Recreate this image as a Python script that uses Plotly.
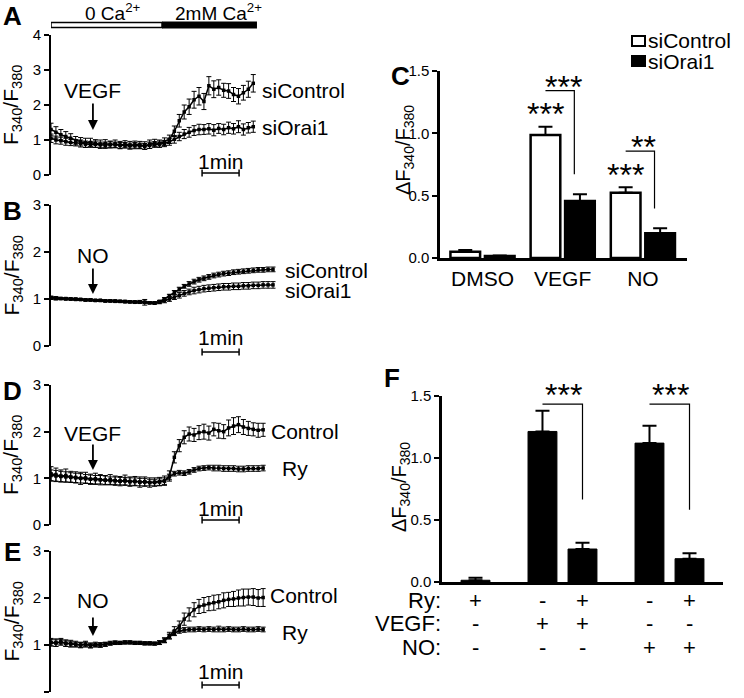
import plotly.graph_objects as go

W, H = 744, 698
FONT = "Liberation Sans, Arial, Helvetica, sans-serif"

# ------------------------------------------------------------------ data
# Panel A  (VEGF, siControl vs siOrai1), time in s
time_A = [0, 8, 16, 24, 32, 40, 48, 56, 64, 72, 80, 88, 96, 104, 112, 120, 128, 136, 144, 152,
          160, 168, 176, 184, 192, 200, 208, 216, 224, 232, 240, 248, 256, 264, 272, 280, 288,
          296, 304, 312, 320, 328]
A_siControl = [1.30, 1.22, 1.15, 1.10, 1.05, 0.98, 0.95, 0.92, 0.93, 0.90,
               0.88, 0.90, 0.87, 0.89, 0.86, 0.88, 0.85, 0.87, 0.86, 0.84,
               0.88, 0.92, 0.90, 0.95, 1.02, 1.25, 1.55, 1.80, 1.95, 2.15,
               2.25, 2.10, 2.55, 2.45, 2.50, 2.42, 2.40, 2.30, 2.25, 2.35,
               2.45, 2.62]
A_siControl_err = [0.18, 0.16, 0.15, 0.14, 0.13, 0.12, 0.12, 0.13, 0.12, 0.11,
                   0.12, 0.11, 0.10, 0.11, 0.10, 0.10, 0.11, 0.10, 0.10, 0.11,
                   0.12, 0.10, 0.10, 0.11, 0.12, 0.15, 0.18, 0.20, 0.22, 0.24,
                   0.25, 0.23, 0.26, 0.24, 0.22, 0.20, 0.21, 0.20, 0.22, 0.21,
                   0.23, 0.25]
A_siOrai1 = [1.05, 1.00, 0.98, 0.95, 0.93, 0.92, 0.90, 0.88, 0.87, 0.88,
             0.86, 0.85, 0.87, 0.86, 0.84, 0.85, 0.83, 0.84, 0.83, 0.82,
             0.85, 0.87, 0.88, 0.90, 0.95, 1.02, 1.10, 1.17, 1.22, 1.27,
             1.30, 1.30, 1.32, 1.28, 1.33, 1.30, 1.35, 1.32, 1.38, 1.30,
             1.35, 1.38]
A_siOrai1_err = [0.12, 0.11, 0.10, 0.10, 0.09, 0.09, 0.10, 0.09, 0.08, 0.09,
                 0.08, 0.09, 0.08, 0.08, 0.09, 0.08, 0.08, 0.09, 0.08, 0.08,
                 0.09, 0.08, 0.09, 0.09, 0.10, 0.11, 0.12, 0.13, 0.14, 0.14,
                 0.15, 0.14, 0.15, 0.16, 0.14, 0.15, 0.16, 0.15, 0.17, 0.16,
                 0.15, 0.16]

# Panel B  (NO, siControl vs siOrai1)
time_B = [0, 8, 16, 24, 32, 40, 48, 56, 64, 72, 80, 88, 96, 104, 112, 120, 128, 136, 144, 152,
          160, 168, 176, 184, 192, 200, 208, 216, 224, 232, 240, 248, 256, 264, 272, 280, 288,
          296, 304, 312, 320, 328, 336, 344, 352, 360]
B_siControl = [1.02, 1.01, 1.01, 1.00, 1.00, 0.99, 0.99, 0.98, 0.98, 0.97,
               0.97, 0.96, 0.96, 0.95, 0.95, 0.94, 0.94, 0.93, 0.94, 0.93,
               0.92, 0.92, 0.95, 1.00, 1.07, 1.14, 1.21, 1.27, 1.32, 1.37,
               1.41, 1.44, 1.47, 1.50, 1.52, 1.54, 1.55, 1.57, 1.58, 1.59,
               1.60, 1.61, 1.62, 1.62, 1.63, 1.63]
B_siControl_err = [0.03, 0.03, 0.02, 0.02, 0.02, 0.02, 0.02, 0.02, 0.02, 0.02,
                   0.02, 0.02, 0.02, 0.02, 0.02, 0.02, 0.02, 0.02, 0.03, 0.06,
                   0.02, 0.02, 0.02, 0.03, 0.03, 0.04, 0.04, 0.04, 0.05, 0.05,
                   0.05, 0.05, 0.05, 0.05, 0.05, 0.05, 0.05, 0.05, 0.05, 0.05,
                   0.05, 0.05, 0.05, 0.05, 0.05, 0.05]
B_siOrai1 = [1.03, 1.02, 1.01, 1.01, 1.00, 1.00, 0.99, 0.98, 0.98, 0.97,
             0.97, 0.96, 0.96, 0.96, 0.95, 0.95, 0.94, 0.94, 0.93, 0.93,
             0.92, 0.91, 0.93, 0.96, 1.00, 1.04, 1.08, 1.12, 1.15, 1.18,
             1.20, 1.22, 1.23, 1.24, 1.25, 1.26, 1.26, 1.27, 1.27, 1.28,
             1.28, 1.29, 1.29, 1.30, 1.30, 1.30]
B_siOrai1_err = [0.03, 0.03, 0.02, 0.02, 0.02, 0.02, 0.02, 0.02, 0.02, 0.02,
                 0.02, 0.02, 0.02, 0.02, 0.02, 0.02, 0.02, 0.02, 0.02, 0.02,
                 0.02, 0.02, 0.03, 0.04, 0.05, 0.05, 0.06, 0.06, 0.06, 0.07,
                 0.07, 0.07, 0.07, 0.07, 0.07, 0.07, 0.07, 0.07, 0.07, 0.07,
                 0.07, 0.07, 0.07, 0.07, 0.07, 0.07]

# Panel D  (VEGF, Control vs Ryanodine)
time_D = [0, 8, 16, 24, 32, 40, 48, 56, 64, 72, 80, 88, 96, 104, 112, 120, 128, 136, 144, 152,
          160, 168, 176, 184, 192, 200, 208, 216, 224, 232, 240, 248, 256, 264, 272, 280, 288,
          296, 304, 312, 320, 328, 336, 344]
D_Control = [1.10, 1.08, 1.05, 1.06, 1.03, 1.02, 1.00, 1.01, 0.98, 0.99,
             0.97, 0.96, 0.97, 0.95, 0.94, 0.96, 0.93, 0.94, 0.92, 0.93,
             0.91, 0.92, 0.93, 0.95, 1.05, 1.45, 1.70, 1.88, 1.95, 1.93,
             1.98, 2.00, 1.97, 2.05, 2.02, 2.00, 2.08, 2.12, 2.15, 2.10,
             2.07, 2.05, 2.03, 2.04]
D_Control_err = [0.15, 0.14, 0.13, 0.14, 0.12, 0.12, 0.13, 0.12, 0.11, 0.12,
                 0.11, 0.10, 0.11, 0.10, 0.10, 0.11, 0.10, 0.10, 0.11, 0.10,
                 0.10, 0.09, 0.09, 0.10, 0.11, 0.12, 0.13, 0.14, 0.15, 0.14,
                 0.15, 0.16, 0.15, 0.14, 0.16, 0.15, 0.17, 0.18, 0.17, 0.16,
                 0.15, 0.14, 0.15, 0.14]
D_Ry = [1.06, 1.05, 1.04, 1.03, 1.02, 1.01, 1.00, 0.99, 0.98, 0.97,
        0.97, 0.96, 0.95, 0.95, 0.94, 0.94, 0.93, 0.93, 0.92, 0.92,
        0.91, 0.91, 0.92, 0.94, 1.03, 1.10, 1.12, 1.11, 1.14, 1.18,
        1.21, 1.22, 1.23, 1.22, 1.22, 1.21, 1.21, 1.21, 1.20, 1.20,
        1.21, 1.21, 1.21, 1.22]
D_Ry_err = [0.12, 0.12, 0.11, 0.11, 0.10, 0.10, 0.10, 0.09, 0.09, 0.09,
            0.09, 0.09, 0.08, 0.08, 0.08, 0.08, 0.08, 0.08, 0.08, 0.08,
            0.07, 0.07, 0.07, 0.07, 0.06, 0.05, 0.05, 0.05, 0.05, 0.05,
            0.05, 0.05, 0.05, 0.06, 0.06, 0.06, 0.06, 0.06, 0.06, 0.06,
            0.06, 0.06, 0.06, 0.06]

# Panel E  (NO, Control vs Ryanodine)
time_E = [0, 8, 16, 24, 32, 40, 48, 56, 64, 72, 80, 88, 96, 104, 112, 120, 128, 136, 144, 152,
          160, 168, 176, 184, 192, 200, 208, 216, 224, 232, 240, 248, 256, 264, 272, 280, 288,
          296, 304, 312, 320, 328, 336, 344]
E_Control = [1.06, 1.05, 1.07, 1.04, 1.03, 1.02, 1.00, 1.02, 0.99, 1.01,
             1.00, 1.02, 1.04, 1.05, 1.05, 1.06, 1.06, 1.05, 1.05, 1.04,
             1.04, 1.03, 1.05, 1.10, 1.20, 1.30, 1.40, 1.55, 1.65, 1.75,
             1.82, 1.85, 1.88, 1.90, 1.92, 1.95, 1.97, 1.98, 2.00, 2.01,
             2.02, 2.02, 2.00, 2.01]
E_Control_err = [0.08, 0.08, 0.07, 0.07, 0.07, 0.06, 0.06, 0.06, 0.05, 0.05,
                 0.05, 0.04, 0.04, 0.04, 0.03, 0.03, 0.03, 0.03, 0.03, 0.03,
                 0.03, 0.03, 0.04, 0.05, 0.07, 0.09, 0.11, 0.13, 0.14, 0.15,
                 0.15, 0.16, 0.15, 0.16, 0.15, 0.16, 0.15, 0.16, 0.17, 0.18,
                 0.17, 0.18, 0.18, 0.19]
E_Ry = [1.05, 1.04, 1.06, 1.03, 1.02, 1.01, 1.00, 1.01, 0.99, 1.00,
        1.00, 1.01, 1.03, 1.04, 1.04, 1.05, 1.05, 1.04, 1.04, 1.03,
        1.03, 1.03, 1.05, 1.10, 1.18, 1.25, 1.30, 1.32, 1.33, 1.33,
        1.34, 1.33, 1.34, 1.33, 1.34, 1.33, 1.34, 1.33, 1.33, 1.34,
        1.33, 1.33, 1.34, 1.33]
E_Ry_err = [0.07, 0.07, 0.06, 0.06, 0.06, 0.05, 0.05, 0.05, 0.05, 0.04,
            0.04, 0.04, 0.03, 0.03, 0.03, 0.03, 0.03, 0.03, 0.03, 0.03,
            0.03, 0.03, 0.04, 0.05, 0.05, 0.05, 0.05, 0.05, 0.05, 0.05,
            0.05, 0.05, 0.05, 0.05, 0.06, 0.05, 0.05, 0.05, 0.05, 0.05,
            0.05, 0.05, 0.05, 0.05]

# Panel C  (bar chart)
c_categories = ["DMSO", "VEGF", "NO"]
c_siControl = [0.051, 0.987, 0.524]
c_siControl_err = [0.013, 0.066, 0.043]
c_siOrai1 = [0.016, 0.457, 0.198]
c_siOrai1_err = [0.005, 0.054, 0.040]
c_stars_vs_dmso = ["", "***", "***"]
c_stars_vs_siControl = ["", "***", "**"]

# Panel F  (bar chart)
f_stimulus = ["none", "VEGF", "NO"]
f_noRy = [None, 1.214, 1.120]
f_noRy_err = [0, 0.167, 0.140]
f_Ry = [0.014, 0.266, 0.188]
f_Ry_err = [0.020, 0.050, 0.044]
f_stars = ["", "***", "***"]

# ------------------------------------------------------------------ layout helpers
def fx(p):
    return p / W


def fy(p):
    return 1 - p / H


SEC_PER_PX = 60 / 37          # 1 min scale bar = 37 px
LX0, LX1 = 51, 292            # left panels x-domain (px)
CA_ADD_TIME = 180             # switch 0 Ca -> 2 mM Ca (s)
RECORD_END = 334
STIM_TIME = 68                # VEGF / NO application (s)
SCALE_T0 = 245                # start of 1-min scale bar (s)

fig = go.Figure()
shapes, annotations = [], []
layout = dict(width=W, height=H, margin=dict(l=0, r=0, t=0, b=0, pad=0, autoexpand=False),
              paper_bgcolor="white", plot_bgcolor="rgba(0,0,0,0)", showlegend=False,
              font=dict(family=FONT, color="black"), barmode="overlay")


def ann(text, x, y, size=21, xref="paper", yref="paper", **kw):
    d = dict(text=text, x=x, y=y, xref=xref, yref=yref, showarrow=False,
             xanchor="center", yanchor="middle",
             font=dict(family=FONT, size=size, color="black"))
    d.update(kw)
    annotations.append(d)


left_panels = [
    dict(letter="A", idx=1, top=35, bottom=175, ymax=4, letter_y=16, stim="VEGF",
         stim_text_y=91, arrow_tail=102, arrow_head=130, min_text_y=161, bar_y=173,
         series=[(time_A, A_siControl, A_siControl_err, "siControl", 260, 91),
                 (time_A, A_siOrai1, A_siOrai1_err, "siOrai1", 260, 128)]),
    dict(letter="B", idx=2, top=205, bottom=346, ymax=3, letter_y=211, stim="NO",
         stim_text_y=255, arrow_tail=267, arrow_head=294, min_text_y=337, bar_y=352,
         series=[(time_B, B_siControl, B_siControl_err, "siControl", 283, 270),
                 (time_B, B_siOrai1, B_siOrai1_err, "siOrai1", 283, 291)]),
    dict(letter="D", idx=3, top=385, bottom=525, ymax=3, letter_y=391, stim="VEGF",
         stim_text_y=433, arrow_tail=443, arrow_head=470, min_text_y=508, bar_y=520,
         series=[(time_D, D_Control, D_Control_err, "Control", 269, 431),
                 (time_D, D_Ry, D_Ry_err, "Ry", 280, 468)]),
    dict(letter="E", idx=4, top=551, bottom=692, ymax=3, letter_y=552, stim="NO",
         stim_text_y=600, arrow_tail=616, arrow_head=636, min_text_y=671, bar_y=685,
         series=[(time_E, E_Control, E_Control_err, "Control", 268, 595),
                 (time_E, E_Ry, E_Ry_err, "Ry", 280, 632)]),
]

for p in left_panels:
    i = p["idx"]
    xk = "xaxis" if i == 1 else f"xaxis{i}"
    yk = "yaxis" if i == 1 else f"yaxis{i}"
    xn = "x" if i == 1 else f"x{i}"
    yn = "y" if i == 1 else f"y{i}"
    layout[xk] = dict(domain=[fx(LX0), fx(LX1)], range=[0, (LX1 - LX0) * SEC_PER_PX],
                      visible=False, anchor=yn, fixedrange=True)
    layout[yk] = dict(domain=[fy(p["bottom"]), fy(p["top"])], range=[0, p["ymax"]], anchor=xn,
                      showline=True, linecolor="black", linewidth=2, ticks="outside",
                      ticklen=5, tickwidth=2, tickcolor="black", dtick=1, showgrid=False,
                      zeroline=False, tickfont=dict(size=15), fixedrange=True,
                      automargin=False)
    for t, y, e, name, lx, ly in p["series"]:
        fig.add_trace(go.Scatter(
            x=t, y=y, mode="lines+markers", xaxis=xn, yaxis=yn, name=name,
            line=dict(color="black", width=1.5),
            marker=dict(symbol="square", size=3.5, color="black"),
            error_y=dict(type="data", array=e, visible=True, color="black",
                         thickness=1, width=2.5),
            hoverinfo="skip"))
        ann(name, fx(lx), fy(ly), size=21, xanchor="left")
    ann(f"<b>{p['letter']}</b>", fx(13), fy(p["letter_y"]), size=26)
    ann("F<sub>340</sub>/F<sub>380</sub>", fx(12), fy((p["top"] + p["bottom"]) / 2),
        size=21, textangle=-90)
    ann(p["stim"], STIM_TIME, fy(p["stim_text_y"]), size=21, xref=xn)
    annotations.append(dict(text="", x=STIM_TIME, y=fy(p["arrow_head"]), xref=xn,
                            yref="paper", showarrow=True, ax=0,
                            ay=p["arrow_tail"] - p["arrow_head"], arrowhead=2,
                            arrowsize=1.1, arrowwidth=1.8, arrowcolor="black"))
    ann("1min", SCALE_T0 + 30, fy(p["min_text_y"]), size=21, xref=xn)
    shapes.append(dict(type="line", xref=xn, yref="paper", x0=SCALE_T0, x1=SCALE_T0 + 60,
                       y0=fy(p["bar_y"]), y1=fy(p["bar_y"]), line=dict(color="black", width=1.5)))
    for xe in (SCALE_T0, SCALE_T0 + 60):
        shapes.append(dict(type="line", xref=xn, yref="paper", x0=xe, x1=xe,
                           y0=fy(p["bar_y"] - 3.5), y1=fy(p["bar_y"] + 3.5),
                           line=dict(color="black", width=1.5)))

# calcium protocol bar above panel A
shapes.append(dict(type="rect", xref="x", yref="paper", x0=0, x1=CA_ADD_TIME,
                   y0=fy(27.5), y1=fy(22.5), fillcolor="white", line=dict(color="black", width=1.5)))
shapes.append(dict(type="rect", xref="x", yref="paper", x0=CA_ADD_TIME, x1=RECORD_END,
                   y0=fy(28.5), y1=fy(21.5), fillcolor="black", line=dict(color="black", width=0)))
ann("0 Ca<sup>2+</sup>", CA_ADD_TIME / 2 + 10, fy(12), size=19, xref="x")
ann("2mM Ca<sup>2+</sup>", (CA_ADD_TIME + RECORD_END) / 2 + 15, fy(12), size=19, xref="x")

# ------------------------------------------------------------------ panel C
C_X0, C_X1, C_TOP, C_BOT = 440, 687, 71, 258
BAR_W = 0.37
layout["xaxis5"] = dict(domain=[fx(C_X0), fx(C_X1)], range=[-0.53, 2.55], anchor="y5",
                        showline=True, linecolor="black", linewidth=2.5, ticks="",
                        tickvals=[0, 1, 2], ticktext=c_categories, tickfont=dict(size=21),
                        showgrid=False, zeroline=False, fixedrange=True, automargin=False)
layout["yaxis5"] = dict(domain=[fy(C_BOT), fy(C_TOP)], range=[0, 1.5], anchor="x5",
                        showline=True, linecolor="black", linewidth=2.5, ticks="outside",
                        ticklen=5, tickwidth=2, tickcolor="black", dtick=0.5, tickformat=".1f",
                        showgrid=False, zeroline=False, tickfont=dict(size=15), fixedrange=True,
                        automargin=False)
for vals, errs, fill, off in [(c_siControl, c_siControl_err, "white", -0.40),
                              (c_siOrai1, c_siOrai1_err, "black", 0.03)]:
    fig.add_trace(go.Bar(x=[0, 1, 2], y=vals, width=BAR_W, offset=off, xaxis="x5", yaxis="y5",
                         marker=dict(color=fill, line=dict(color="black", width=2.5)),
                         error_y=dict(type="data", array=errs, arrayminus=[0] * len(errs),
                                      symmetric=False, color="black", thickness=2, width=7),
                         hoverinfo="skip"))
C_WHITE_C = -0.40 + BAR_W / 2
C_BLACK_C = 0.03 + BAR_W / 2
STAR = 32
for g in range(3):
    if c_stars_vs_dmso[g]:
        top = c_siControl[g] + c_siControl_err[g]
        ann(c_stars_vs_dmso[g], g + C_WHITE_C, top + 0.10, size=STAR, xref="x5", yref="y5")
    if c_stars_vs_siControl[g]:
        y_top = c_siControl[g] + c_siControl_err[g] + 0.29
        y_low = c_siOrai1[g] + c_siOrai1_err[g] + 0.16
        x_a = g + C_WHITE_C
        x_b = g + C_BLACK_C - 0.07
        shapes.append(dict(type="path", xref="x5", yref="y5",
                           path=f"M {x_a},{y_top} L {x_b},{y_top} L {x_b},{y_low}",
                           line=dict(color="black", width=1.2)))
        ann(c_stars_vs_siControl[g], (x_a + x_b) / 2 + 0.04, y_top + 0.03, size=STAR,
            xref="x5", yref="y5")
for (name, fill, ly) in [("siControl", "white", 41), ("siOrai1", "black", 61)]:
    shapes.append(dict(type="rect", xref="paper", yref="paper", x0=fx(632), x1=fx(645),
                       y0=fy(ly + 5), y1=fy(ly - 5), fillcolor=fill,
                       line=dict(color="black", width=2)))
    ann(name, fx(646), fy(ly), size=21, xanchor="left")
ann("<b>C</b>", fx(400), fy(76), size=26)
ann("ΔF<sub>340</sub>/F<sub>380</sub>", fx(404), fy(150), size=20, textangle=-90)

# ------------------------------------------------------------------ panel F
F_X0, F_X1, F_TOP, F_BOT = 442, 723, 396, 582
F_W = 0.27
F_OFF_MINUS, F_OFF_PLUS = -0.322, 0.052
layout["xaxis6"] = dict(domain=[fx(F_X0), fx(F_X1)], range=[-0.126, 2.5], anchor="y6",
                        showline=True, linecolor="black", linewidth=2.5, ticks="",
                        showticklabels=False, showgrid=False, zeroline=False, fixedrange=True)
layout["yaxis6"] = dict(domain=[fy(F_BOT), fy(F_TOP)], range=[0, 1.5], anchor="x6",
                        showline=True, linecolor="black", linewidth=2.5, ticks="outside",
                        ticklen=5, tickwidth=2, tickcolor="black", dtick=0.5, tickformat=".1f",
                        showgrid=False, zeroline=False, tickfont=dict(size=15), fixedrange=True,
                        automargin=False)
for vals, errs, off in [(f_noRy, f_noRy_err, F_OFF_MINUS), (f_Ry, f_Ry_err, F_OFF_PLUS)]:
    fig.add_trace(go.Bar(x=[0, 1, 2], y=vals, width=F_W, offset=off, xaxis="x6", yaxis="y6",
                         marker=dict(color="black", line=dict(color="black", width=1)),
                         error_y=dict(type="data", array=errs, arrayminus=[0] * len(errs),
                                      symmetric=False, color="black", thickness=2, width=7),
                         hoverinfo="skip"))
FM_C = F_OFF_MINUS + F_W / 2
FP_C = F_OFF_PLUS + F_W / 2


def f_val_to_paper(v):
    return fy(F_BOT - v * (F_BOT - F_TOP) / 1.5)


for g in range(3):
    if f_stars[g]:
        y_top = 1.435
        y_low = f_Ry[g] + f_Ry_err[g] + 0.35
        shapes.append(dict(type="path", xref="x6", yref="y6",
                           path=f"M {g + FM_C},{y_top} L {g + FP_C},{y_top} L {g + FP_C},{y_low}",
                           line=dict(color="black", width=1.2)))
        ann(f_stars[g], g + 0.01, f_val_to_paper(y_top + 0.07), size=STAR, xref="x6")
rows = [("Ry:", 600), ("VEGF:", 623), ("NO:", 647)]
for label, ry in rows:
    ann(label, fx(F_X0 + 1), fy(ry), size=22, xanchor="right")
for g, stim in enumerate(f_stimulus):
    for has_ry, vals, xc in [(False, f_noRy, FM_C), (True, f_Ry, FP_C)]:
        if vals[g] is None:
            continue
        signs = ["+" if has_ry else "-",
                 "+" if stim == "VEGF" else "-",
                 "+" if stim == "NO" else "-"]
        for s, (_, ry) in zip(signs, rows):
            ann(s, g + xc, fy(ry), size=22, xref="x6")
ann("<b>F</b>", fx(392), fy(378), size=26)
ann("ΔF<sub>340</sub>/F<sub>380</sub>", fx(400), fy(487), size=20, textangle=-90)

layout["shapes"] = shapes
layout["annotations"] = annotations
fig.update_layout(**layout)
fig.write_html("out.html", config={"displayModeBar": False},
               post_script="document.body.style.margin='0';document.body.style.padding='0';")
